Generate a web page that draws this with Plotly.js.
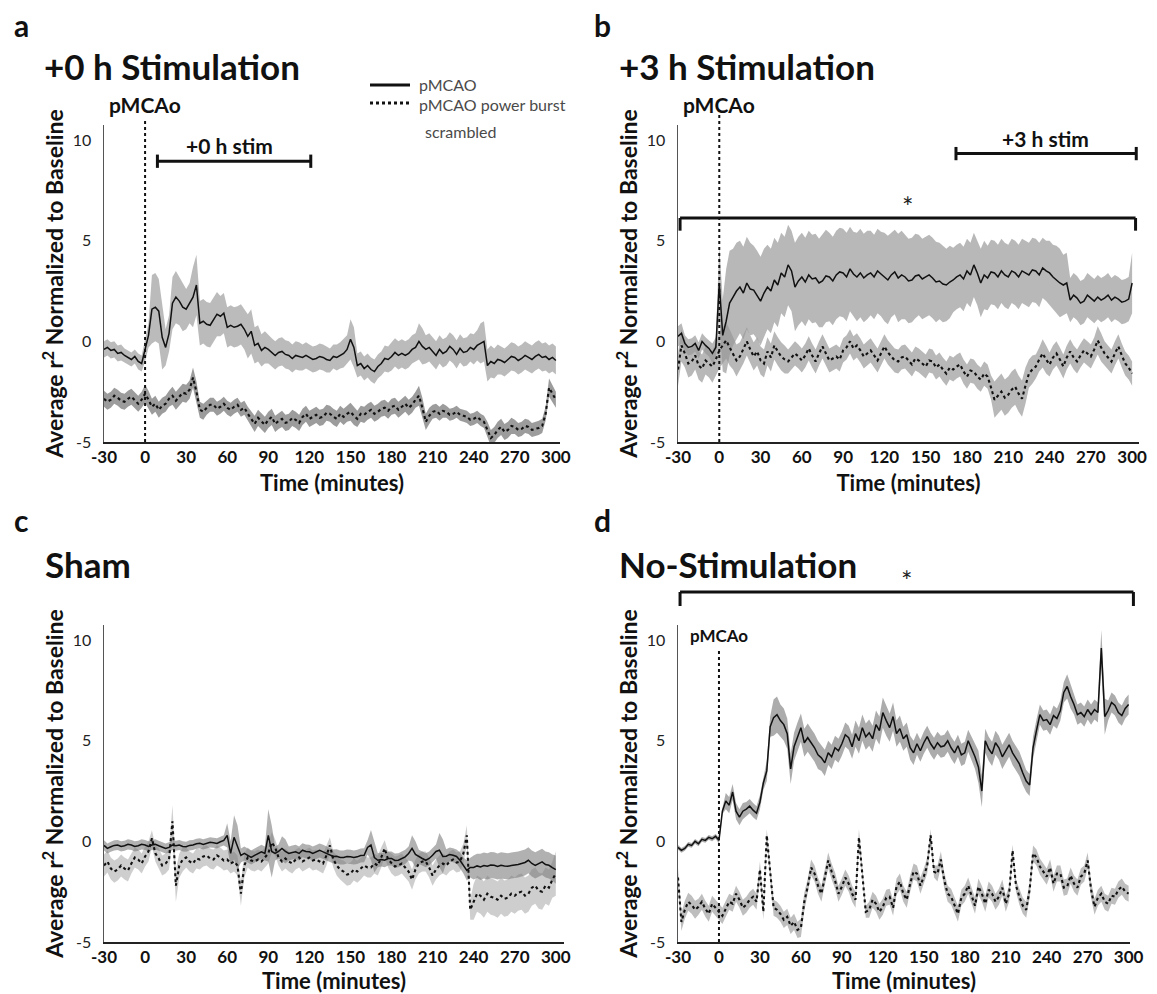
<!DOCTYPE html>
<html><head><meta charset="utf-8">
<script src="https://cdn.plot.ly/plotly-3.0.1.min.js"></script>
<style>html,body{margin:0;padding:0;background:#fff;}</style>
</head><body><div id="chart" style="width:1157px;height:994px;"></div>
<script>
const W = 1157, H = 994;

// ---------- data ----------
// mean traces are read every 2.5 min; the shaded spread (sd) every 5 min
const time = [-30,-27.5,-25,-22.5,-20,-17.5,-15,-12.5,-10,-7.5,-5,-2.5,0,2.5,5,7.5,10,12.5,15,17.5,
  20,22.5,25,27.5,30,32.5,35,37.5,40,42.5,45,47.5,50,52.5,55,57.5,60,62.5,65,67.5,
  70,72.5,75,77.5,80,82.5,85,87.5,90,92.5,95,97.5,100,102.5,105,107.5,110,112.5,115,117.5,
  120,122.5,125,127.5,130,132.5,135,137.5,140,142.5,145,147.5,150,152.5,155,157.5,160,162.5,165,167.5,
  170,172.5,175,177.5,180,182.5,185,187.5,190,192.5,195,197.5,200,202.5,205,207.5,210,212.5,215,217.5,
  220,222.5,225,227.5,230,232.5,235,237.5,240,242.5,245,247.5,250,252.5,255,257.5,260,262.5,265,267.5,
  270,272.5,275,277.5,280,282.5,285,287.5,290,292.5,295,297.5,300];
const xTickVals = [-30,0,30,60,90,120,150,180,210,240,270,300];
const xTickText = ['-30','0','30','60','90','120','150','180','210','240','270','300'];
const yTickVals = [-5,0,5,10];
const yTickText = ['-5','0','5','10'];
const seriesNames = ['pMCAO', 'pMCAO power burst scrambled'];
const panelLetters = ['a','b','c','d'];
const panelTitles = ['+0 h Stimulation','+3 h Stimulation','Sham','No-Stimulation'];

// panel a: +0 h Stimulation
const aSolidMean = [-0.4,-0.3,-0.45,-0.4,-0.6,-0.55,-0.7,-0.8,-0.9,-0.75,-1.0,-1.1,-0.4,0.3,1.6,1.7,1.5,0.2,-0.3,0.4,
  1.9,2.2,2.0,1.7,1.6,1.9,2.2,2.8,0.9,1.0,0.85,0.8,1.1,1.35,1.25,1.4,0.7,0.8,0.7,0.75,
  0.85,0.6,0.25,0.5,-0.2,-0.1,-0.45,-0.3,-0.4,-0.55,-0.7,-0.55,-0.5,-0.65,-0.7,-0.85,-0.7,-0.75,-0.8,-0.7,
  -0.8,-0.9,-0.85,-0.75,-0.8,-0.9,-0.95,-0.75,-0.8,-0.7,-0.6,-0.4,0.1,-0.3,-1.2,-1.1,-1.35,-1.2,-1.4,-1.5,
  -1.25,-1.1,-0.85,-0.9,-0.75,-0.55,-0.7,-0.6,-0.7,-0.6,-0.4,-0.3,0.0,-0.25,-0.4,-0.3,-0.5,-0.7,-0.4,-0.6,
  -0.5,-0.25,-0.4,-0.65,-0.35,-0.55,-0.5,-0.3,-0.4,-0.2,-0.1,0.0,-1.2,-1.0,-1.1,-0.9,-0.95,-1.05,-0.9,-0.75,
  -0.8,-0.95,-0.85,-0.7,-0.8,-0.9,-0.75,-0.65,-0.8,-0.75,-0.9,-0.8,-0.95];
const aSolidSd = [0.4,0.4,0.4,0.35,0.35,0.4,0.6,1.7,1.6,0.9,
  1.3,1.2,1.0,1.5,1.1,1.1,1.1,1.0,1.0,1.0,
  1.0,1.1,0.9,0.8,0.7,0.7,0.7,0.7,0.7,0.65,
  0.65,0.65,0.65,0.6,0.65,0.7,1.0,0.6,0.6,0.6,
  0.6,0.65,0.7,0.7,0.7,0.7,0.9,0.7,0.7,0.7,
  0.7,0.7,0.7,0.7,0.75,1.0,0.8,0.75,0.7,0.7,
  0.7,0.7,0.7,0.7,0.7,0.7,0.7];
const aDotMean = [-2.85,-3.0,-2.9,-2.7,-2.8,-2.95,-3.0,-2.85,-2.75,-2.95,-3.1,-2.9,-2.6,-2.9,-3.25,-3.1,-3.4,-3.2,-3.1,-2.85,
  -2.7,-2.95,-2.75,-2.55,-2.6,-2.4,-1.8,-2.5,-3.4,-3.5,-3.3,-3.15,-3.15,-3.35,-3.25,-3.1,-3.3,-3.4,-3.25,-3.15,
  -3.4,-3.3,-3.6,-3.85,-4.1,-3.8,-4.0,-4.15,-3.9,-3.75,-4.1,-3.95,-3.85,-4.05,-4.0,-3.8,-3.9,-4.05,-3.75,-3.6,
  -3.85,-3.75,-3.65,-3.8,-3.75,-3.55,-3.6,-3.75,-3.85,-3.6,-3.75,-3.6,-3.5,-3.7,-3.85,-3.6,-3.65,-3.5,-3.4,-3.6,
  -3.5,-3.35,-3.3,-3.45,-3.25,-3.2,-3.4,-3.25,-3.1,-3.3,-3.15,-2.9,-2.7,-3.3,-4.0,-3.7,-3.5,-3.45,-3.6,-3.45,
  -3.5,-3.65,-3.6,-3.5,-3.65,-3.7,-3.75,-3.9,-3.85,-3.75,-3.9,-4.0,-4.4,-4.8,-4.65,-4.4,-4.25,-4.5,-4.4,-4.2,
  -4.25,-4.4,-4.35,-4.2,-4.25,-4.4,-4.35,-4.3,-4.2,-3.6,-2.3,-2.6,-2.9];
const aDotSd = [0.4,0.4,0.4,0.4,0.4,0.4,0.45,0.4,0.4,0.4,
  0.45,0.45,0.45,0.5,0.4,0.35,0.35,0.35,0.35,0.35,
  0.35,0.35,0.4,0.4,0.4,0.4,0.4,0.4,0.4,0.4,
  0.4,0.4,0.4,0.4,0.4,0.4,0.45,0.4,0.4,0.4,
  0.4,0.4,0.4,0.4,0.4,0.4,0.5,0.4,0.35,0.35,
  0.3,0.3,0.3,0.3,0.3,0.3,0.4,0.4,0.4,0.4,
  0.35,0.35,0.35,0.35,0.35,0.45,0.4];

// panel b: +3 h Stimulation
const bSolidMean = [0.25,0.4,-0.1,-0.3,-0.25,-0.1,-0.45,0.0,-0.2,-0.35,-0.6,-0.3,2.9,0.3,1.0,1.9,2.2,2.5,2.7,2.4,
  2.9,2.6,2.55,2.3,2.0,2.4,2.7,2.5,3.05,2.8,3.4,3.2,3.8,3.5,2.7,3.0,3.2,2.95,3.3,3.1,
  3.15,2.9,3.0,3.25,3.2,3.0,3.3,3.45,3.4,3.2,3.6,3.35,3.2,3.4,3.15,3.3,3.4,3.2,3.5,3.35,
  3.2,3.05,3.3,3.45,3.15,3.3,3.2,3.0,3.05,3.25,3.3,3.1,3.2,3.3,3.15,2.95,3.0,2.85,2.8,2.95,
  3.05,3.2,3.3,3.1,3.5,3.3,3.8,3.4,2.9,3.3,3.15,3.45,3.4,3.2,3.5,3.3,3.2,3.5,3.4,3.2,
  3.5,3.4,3.3,3.55,3.5,3.3,3.65,3.5,3.4,3.2,3.05,2.9,2.8,2.9,2.05,2.3,2.15,1.9,2.0,2.3,
  2.15,2.0,2.2,2.05,2.15,2.3,2.05,2.2,2.1,1.95,2.0,2.1,2.9];
const bSolidSd = [0.5,0.4,0.4,0.4,0.4,0.5,1.8,2.6,2.4,2.3,
  2.3,2.2,2.2,2.1,2.1,2.0,2.0,2.2,2.2,2.2,
  2.2,2.3,2.2,2.2,2.2,2.1,2.2,2.2,2.1,2.1,
  2.2,2.1,2.2,2.1,2.1,2.0,2.0,2.0,1.9,1.8,
  1.6,1.6,1.6,1.6,1.7,1.6,1.6,1.6,1.6,1.6,
  1.6,1.6,1.6,1.5,1.6,1.7,1.5,1.1,1.1,1.1,
  1.1,1.1,1.1,1.1,1.1,1.1,1.5];
const bDotMean = [-1.4,-0.2,-0.6,-1.1,-1.0,-0.7,-1.2,-1.35,-0.95,-1.1,-1.25,-0.9,-0.45,-0.2,0.05,-0.3,-0.6,-0.95,-0.75,-0.4,
  0.0,-0.4,-0.75,-0.5,-0.95,-1.1,-0.5,-0.8,-0.2,-0.5,-0.75,-0.9,-1.0,-0.8,-0.6,-0.75,-0.95,-0.7,-0.35,-0.7,
  -1.0,-0.6,-0.25,-0.6,-0.95,-0.85,-0.75,-0.9,-0.45,-0.3,0.0,-0.35,-0.2,-0.45,-0.75,-0.6,-0.45,-0.7,-0.95,-0.6,
  -0.25,-0.55,-0.75,-0.95,-1.0,-0.8,-0.75,-0.95,-1.15,-0.85,-0.95,-1.1,-1.25,-0.95,-1.0,-1.3,-1.15,-1.4,-1.6,-1.3,
  -1.4,-1.25,-1.15,-1.5,-1.75,-1.45,-1.5,-1.75,-1.9,-1.6,-1.75,-2.3,-2.9,-2.7,-2.5,-2.8,-2.65,-2.4,-2.25,-2.6,
  -2.85,-2.2,-1.6,-1.4,-1.25,-0.9,-0.6,-0.9,-1.15,-0.8,-0.6,-0.9,-1.25,-0.8,-0.5,-0.8,-1.0,-0.7,-0.45,-0.6,
  -0.75,-0.4,0.05,-0.3,-0.6,-0.8,-1.0,-0.6,-0.25,-0.7,-1.1,-1.3,-1.6];
const bDotSd = [0.8,0.7,0.7,0.7,0.7,0.8,0.9,0.9,0.8,0.7,
  0.7,0.7,0.7,0.7,0.7,0.7,0.6,0.6,0.6,0.6,
  0.6,0.6,0.6,0.6,0.6,0.6,0.6,0.6,0.6,0.6,
  0.6,0.6,0.6,0.6,0.6,0.6,0.6,0.6,0.6,0.6,
  0.6,0.6,0.6,0.6,0.6,0.6,0.9,0.9,0.9,0.9,
  0.9,0.7,0.6,0.7,0.6,0.6,0.6,0.6,0.6,0.6,
  0.6,0.7,0.6,0.6,0.6,0.6,0.6];

// panel c: Sham
const cSolidMean = [-0.2,-0.35,-0.27,-0.2,-0.18,-0.25,-0.22,-0.15,-0.18,-0.25,-0.22,-0.15,-0.18,-0.25,-0.18,-0.15,-0.22,-0.3,-0.35,-0.3,
  -0.18,-0.22,-0.18,-0.25,-0.27,-0.2,-0.18,-0.12,-0.1,-0.15,-0.1,-0.05,-0.07,-0.1,-0.02,0.05,0.3,-0.6,0.2,-0.3,
  -0.7,-0.6,-0.7,-0.8,-0.7,-0.6,-0.52,-0.6,0.3,-0.5,-0.6,-0.5,-0.35,-0.5,-0.6,-0.55,-0.52,-0.6,-0.44,-0.5,
  -0.52,-0.6,-0.52,-0.45,-0.52,-0.6,-0.69,-0.75,-0.74,-0.8,-0.8,-0.75,-0.77,-0.8,-0.77,-0.7,-0.69,-0.3,-0.18,-0.8,
  -0.94,-0.9,-0.94,-0.85,-0.85,-0.95,-0.94,-0.85,-0.77,-0.6,-0.35,-0.65,-0.77,-0.85,-0.94,-0.85,-0.69,-0.5,-0.44,-0.75,
  -0.74,-0.65,-0.69,-0.75,-0.94,-1.2,-1.44,-1.3,-1.3,-1.22,-1.27,-1.2,-1.24,-1.18,-1.19,-1.25,-1.19,-1.22,-1.24,-1.2,
  -1.19,-1.15,-1.1,-1.05,-0.94,-1.1,-1.19,-1.1,-1.02,-1.15,-1.19,-1.3,-1.4];
const cSolidSd = [0.25,0.25,0.25,0.25,0.25,0.25,0.25,0.25,0.25,0.25,
  0.25,0.25,0.25,0.25,0.25,0.25,0.25,0.25,0.6,1.1,
  0.35,0.35,0.35,0.35,1.3,0.35,0.6,0.35,0.35,0.35,
  0.35,0.35,0.35,0.35,0.35,0.35,0.35,0.35,0.35,0.75,
  0.35,0.35,0.35,0.35,0.35,0.65,0.35,0.35,0.35,0.85,
  0.35,0.35,0.4,0.5,0.6,0.65,0.65,0.65,0.65,0.65,
  0.65,0.65,0.65,0.65,0.65,0.65,0.7];
const cDotMean = [-1.2,-1.0,-1.35,-1.5,-1.4,-1.2,-1.35,-1.45,-1.1,-0.8,-0.9,-1.1,-0.75,-0.5,0.15,-0.6,-0.85,-1.2,-1.1,-0.9,
  1.0,-2.2,-1.2,-0.9,-0.8,-1.0,-1.1,-0.85,-0.9,-0.75,-0.7,-0.85,-0.9,-0.7,-0.8,-0.95,-0.9,-1.1,-1.0,-1.2,
  -2.6,-1.2,-0.8,-0.95,-1.0,-0.9,-1.0,-0.8,-0.6,-0.05,-0.3,-0.8,-1.0,-0.85,-1.0,-1.1,-0.9,-0.8,-1.0,-0.9,
  -0.8,-0.95,-0.9,-1.0,-1.1,-0.7,-0.2,-0.9,-1.2,-1.4,-1.5,-1.65,-1.6,-1.4,-1.5,-1.35,-1.2,-1.3,-1.3,-1.1,
  -1.2,-0.8,-0.35,-0.9,-1.1,-1.25,-1.2,-1.1,-1.3,-1.5,-1.9,-1.4,-1.1,-1.0,-1.0,-1.3,-1.7,-1.4,-1.2,-1.1,
  -1.2,-1.0,-0.9,-1.05,-1.0,-0.6,0.3,-3.4,-3.0,-2.6,-2.7,-2.9,-2.6,-2.75,-2.8,-2.9,-2.7,-2.85,-2.8,-2.6,
  -2.7,-2.55,-2.5,-2.7,-2.6,-2.3,-2.2,-2.45,-2.5,-2.2,-2.3,-1.9,-1.6];
const cDotSd = [0.55,0.55,0.55,0.55,0.5,0.5,0.5,0.4,0.5,0.5,
  0.8,0.6,0.5,0.5,0.5,0.5,0.5,0.5,0.5,0.5,
  0.6,0.5,0.5,0.5,0.5,0.4,0.5,0.5,0.5,0.5,
  0.5,0.5,0.5,0.4,0.5,0.55,0.55,0.55,0.5,0.5,
  0.5,0.4,0.5,0.5,0.5,0.5,0.5,0.5,0.5,0.5,
  0.5,0.5,0.5,0.5,0.9,0.9,0.9,0.9,0.9,0.9,
  0.9,0.9,0.9,0.9,0.9,0.9,1.1];

// panel d: No-Stimulation
const dSolidMean = [-0.3,-0.45,-0.35,-0.15,-0.2,0.0,-0.12,0.1,0.05,0.2,0.13,0.25,0.05,1.5,2.0,1.8,2.45,1.5,1.2,1.5,
  1.6,1.75,1.55,1.4,1.95,2.9,3.5,5.7,6.15,6.3,6.0,5.8,5.35,3.6,4.7,5.2,5.65,4.9,5.15,4.9,
  4.65,4.3,4.15,3.9,4.4,4.2,4.65,4.5,4.85,5.3,5.15,4.7,5.35,5.0,5.65,5.2,5.4,5.1,5.8,5.5,
  6.4,6.0,5.65,6.2,5.35,5.6,5.1,5.3,4.65,4.4,4.85,4.5,4.9,5.2,4.85,4.6,4.9,4.7,4.75,5.0,
  4.65,4.4,4.75,4.3,4.4,5.0,4.6,4.2,3.7,2.5,5.0,4.6,4.35,4.9,4.65,4.2,4.5,4.8,4.4,4.1,
  3.85,3.4,3.0,2.8,4.65,5.5,6.3,6.0,6.05,5.8,6.25,6.1,6.5,7.4,7.7,7.2,6.8,6.3,6.4,6.2,
  6.55,6.3,6.55,6.4,9.6,6.2,6.5,6.9,6.75,6.4,6.25,6.6,6.8];
const dSolidSd = [0.12,0.12,0.12,0.12,0.12,0.12,0.15,0.4,0.4,0.4,
  0.35,0.35,0.35,0.5,0.9,0.8,0.75,0.7,0.7,0.7,
  0.7,0.65,0.6,0.6,0.6,0.6,0.65,0.65,0.65,0.7,
  0.75,0.7,0.65,0.6,0.6,0.55,0.55,0.55,0.55,0.55,
  0.55,0.55,0.55,0.6,0.8,0.6,0.6,0.6,0.6,0.6,
  0.6,0.55,0.55,0.5,0.5,0.5,0.5,0.6,0.5,0.5,
  0.5,0.5,0.9,0.5,0.5,0.5,0.5];
const dDotMean = [-1.8,-4.0,-3.4,-3.0,-3.15,-3.4,-3.25,-3.0,-3.35,-3.6,-3.1,-3.3,-3.55,-3.7,-3.35,-3.0,-3.1,-2.6,-2.9,-3.3,
  -3.15,-2.9,-2.75,-3.0,-1.4,-3.5,0.3,-1.5,-3.3,-3.4,-3.6,-3.9,-3.75,-4.2,-4.0,-4.4,-4.3,-3.0,-2.25,-1.3,
  -1.6,-2.2,-2.6,-1.8,-0.95,-1.5,-1.95,-2.6,-2.25,-1.8,-2.1,-2.6,-2.9,0.2,-1.5,-3.5,-3.4,-2.9,-3.1,-3.5,
  -3.25,-2.8,-2.75,-3.3,-2.25,-2.0,-2.6,-2.9,-2.1,-1.5,-1.6,-2.2,-1.75,-1.2,0.3,-1.5,-1.6,-0.9,-1.95,-2.6,
  -2.75,-3.2,-3.6,-2.8,-2.6,-2.2,-2.75,-3.2,-2.25,-2.6,-3.1,-2.4,-2.6,-3.0,-2.75,-2.3,-3.1,-2.6,-0.45,-2.2,
  -2.75,-3.2,-3.4,-2.4,-0.6,-0.8,-1.25,-1.5,-1.75,-1.3,-2.1,-1.6,-1.6,-2.3,-2.25,-1.7,-2.1,-2.3,-1.75,-1.6,
  -0.95,-2.4,-3.25,-2.8,-2.6,-3.0,-3.1,-2.7,-2.75,-2.4,-2.25,-2.5,-2.6];
const dDotSd = [0.45,0.45,0.45,0.4,0.4,0.4,0.4,0.4,0.4,0.4,
  0.4,0.4,0.4,0.3,0.4,0.4,0.4,0.4,0.45,0.4,
  0.4,0.4,0.4,0.4,0.4,0.4,0.4,0.3,0.4,0.4,
  0.4,0.4,0.4,0.4,0.4,0.4,0.4,0.3,0.4,0.4,
  0.4,0.4,0.4,0.4,0.4,0.4,0.4,0.4,0.4,0.3,
  0.4,0.4,0.4,0.4,0.4,0.4,0.4,0.4,0.4,0.4,
  0.4,0.4,0.4,0.4,0.4,0.4,0.4];

// ---------- layout helpers ----------
const F = 'Lato, "Open Sans", sans-serif';
const fx = p => p / W;
const fy = p => 1 - p / H;

const panels = [
  {s:'',  solid:aSolidMean, solidSd:aSolidSd, dot:aDotMean, dotSd:aDotSd, xd:[104,560], xr:[-30,303], yd:[442,125],
   solidFill:'rgba(150,150,150,0.65)', dotFill:'rgba(105,105,105,0.66)'},
  {s:'2', solid:bSolidMean, solidSd:bSolidSd, dot:bDotMean, dotSd:bDotSd, xd:[678,1139], xr:[-30,305], yd:[442,125],
   solidFill:'rgba(150,150,150,0.68)', dotFill:'rgba(150,150,150,0.68)'},
  {s:'3', solid:cSolidMean, solidSd:cSolidSd, dot:cDotMean, dotSd:cDotSd, xd:[104,564], xr:[-30,306], yd:[942,625],
   solidFill:'rgba(125,125,125,0.6)', dotFill:'rgba(165,165,165,0.55)'},
  {s:'4', solid:dSolidMean, solidSd:dSolidSd, dot:dDotMean, dotSd:dDotSd, xd:[678,1130], xr:[-30,301], yd:[942,625],
   solidFill:'rgba(140,140,140,0.72)', dotFill:'rgba(155,155,155,0.65)'}
];

const traces = [];
// spread: each 5-min sd applies to the two 2.5-min samples it covers
function band(mean, sd, xa, ya, color) {
  const n = Math.min(time.length, mean.length);
  const up = [], lo = [];
  for (let i = 0; i < n; i++) {
    const s = sd[Math.min(sd.length - 1, Math.floor(i / 2))];
    up.push(mean[i] + s); lo.push(mean[i] - s);
  }
  traces.push({x: time.slice(0, n), y: up, xaxis: xa, yaxis: ya, mode: 'lines',
    line: {width: 0, color: color}, hoverinfo: 'skip', showlegend: false});
  traces.push({x: time.slice(0, n), y: lo, xaxis: xa, yaxis: ya, mode: 'lines',
    line: {width: 0, color: color}, fill: 'tonexty', fillcolor: color, hoverinfo: 'skip', showlegend: false});
}

const layout = {
  width: W, height: H, autosize: false,
  margin: {l: 0, r: 0, t: 0, b: 0},
  paper_bgcolor: '#fff', plot_bgcolor: 'rgba(0,0,0,0)',
  showlegend: false,
  font: {family: F, color: '#111'},
  shapes: [], annotations: []
};

panels.forEach((p, i) => {
  const xa = 'x' + p.s, ya = 'y' + p.s;
  band(p.dot, p.dotSd, xa, ya, p.dotFill);
  band(p.solid, p.solidSd, xa, ya, p.solidFill);
  traces.push({x: time, y: p.dot, xaxis: xa, yaxis: ya, mode: 'lines', name: seriesNames[1],
    line: {color: '#111', width: 2.1, dash: 'dot'}, showlegend: false});
  traces.push({x: time, y: p.solid, xaxis: xa, yaxis: ya, mode: 'lines', name: seriesNames[0],
    line: {color: '#111', width: 1.5}, showlegend: false});

  layout['xaxis' + p.s] = {
    domain: [fx(p.xd[0]), fx(p.xd[1])], range: p.xr, anchor: ya,
    showline: true, linecolor: '#222', linewidth: 2, showgrid: false, zeroline: false,
    tickmode: 'array', tickvals: xTickVals, ticktext: xTickText,
    ticks: '', ticklabelstandoff: -1,
    tickfont: {family: F, size: 17, color: '#111', weight: 700},
    title: {text: 'Time (minutes)', font: {family: F, size: 22, color: '#111', weight: 700}, standoff: 9},
    fixedrange: true
  };
  layout['yaxis' + p.s] = {
    domain: [fy(p.yd[0]), fy(p.yd[1])], range: [-5, 10.75], anchor: xa,
    showline: true, linecolor: '#555', linewidth: 1.5, showgrid: false, zeroline: false,
    tickmode: 'array', tickvals: yTickVals, ticktext: yTickText,
    ticks: '', ticklabelstandoff: 8,
    tickfont: {family: F, size: 16, color: '#222'},
    title: {text: 'Average r<sup>2</sup> Normalized to Baseline', font: {family: F, size: 23, color: '#111', weight: 700}, standoff: 2},
    fixedrange: true
  };
});

// panel letters and titles
const letterPos = [[12, 25], [592, 25], [12, 520], [592, 520]];
const titlePos = [[42, 66], [617, 66], [43, 564], [617, 564]];
panelLetters.forEach((l, i) => {
  layout.annotations.push({text: l, xref: 'paper', yref: 'paper', x: fx(letterPos[i][0]), y: fy(letterPos[i][1]),
    xanchor: 'left', yanchor: 'middle', showarrow: false, font: {family: F, size: 30, color: '#111', weight: 700}});
  layout.annotations.push({text: panelTitles[i], xref: 'paper', yref: 'paper', x: fx(titlePos[i][0]), y: fy(titlePos[i][1]),
    xanchor: 'left', yanchor: 'middle', showarrow: false, font: {family: F, size: 35, color: '#111', weight: 700}});
});

// pMCAo markers (x = 0 min)
const dotLine = {color: '#111', width: 2, dash: 'dot'};
layout.shapes.push({type: 'line', xref: 'x', yref: 'paper', x0: 0, x1: 0, y0: fy(442), y1: fy(118), line: dotLine});
layout.shapes.push({type: 'line', xref: 'x2', yref: 'paper', x0: 0, x1: 0, y0: fy(442), y1: fy(115), line: dotLine});
layout.shapes.push({type: 'line', xref: 'x4', yref: 'y4', x0: 0, x1: 0, y0: -5, y1: 9.6, line: dotLine});
layout.annotations.push({text: 'pMCAo', xref: 'x', yref: 'paper', x: 0, y: fy(105), xanchor: 'center', yanchor: 'middle',
  showarrow: false, font: {family: F, size: 21, color: '#111', weight: 700}});
layout.annotations.push({text: 'pMCAo', xref: 'x2', yref: 'paper', x: 0, y: fy(104), xanchor: 'center', yanchor: 'middle',
  showarrow: false, font: {family: F, size: 21, color: '#111', weight: 700}});
layout.annotations.push({text: 'pMCAo', xref: 'x4', yref: 'y4', x: 0, y: 10.25, xanchor: 'center', yanchor: 'middle',
  showarrow: false, font: {family: F, size: 17, color: '#111', weight: 700}});

// stimulation bars
const barLine = {color: '#111', width: 3};
function hbar(xa, ya, x0, x1, y, cap) {
  layout.shapes.push({type: 'line', xref: xa, yref: ya, x0: x0, x1: x1, y0: y, y1: y, line: barLine});
  layout.shapes.push({type: 'line', xref: xa, yref: ya, x0: x0, x1: x0, y0: y - cap, y1: y + cap, line: barLine});
  layout.shapes.push({type: 'line', xref: xa, yref: ya, x0: x1, x1: x1, y0: y - cap, y1: y + cap, line: barLine});
}
hbar('x', 'y', 9, 121, 8.95, 0.33);
layout.annotations.push({text: '+0 h stim', xref: 'x', yref: 'y', x: 62, y: 9.75, xanchor: 'center', yanchor: 'middle',
  showarrow: false, font: {family: F, size: 21, color: '#111', weight: 700}});
hbar('x2', 'y2', 172, 303, 9.33, 0.33);
layout.annotations.push({text: '+3 h stim', xref: 'x2', yref: 'y2', x: 237, y: 10.1, xanchor: 'center', yanchor: 'middle',
  showarrow: false, font: {family: F, size: 21, color: '#111', weight: 700}});

// significance brackets
layout.shapes.push({type: 'line', xref: 'x2', yref: 'y2', x0: -28.5, x1: 302.5, y0: 6.13, y1: 6.13, line: barLine});
layout.shapes.push({type: 'line', xref: 'x2', yref: 'y2', x0: -28.5, x1: -28.5, y0: 6.13, y1: 5.5, line: barLine});
layout.shapes.push({type: 'line', xref: 'x2', yref: 'y2', x0: 302.5, x1: 302.5, y0: 6.13, y1: 5.5, line: barLine});
layout.annotations.push({text: '*', xref: 'x2', yref: 'y2', x: 137, y: 6.7, xanchor: 'center', yanchor: 'middle',
  showarrow: false, font: {family: F, size: 27, color: '#222'}});
const dDom = t => (t - panels[3].xr[0]) / (panels[3].xr[1] - panels[3].xr[0]);
layout.shapes.push({type: 'line', xref: 'x4 domain', yref: 'paper', x0: dDom(-28.5), x1: dDom(303.5), y0: fy(592), y1: fy(592), line: barLine});
layout.shapes.push({type: 'line', xref: 'x4 domain', yref: 'paper', x0: dDom(-28.5), x1: dDom(-28.5), y0: fy(592), y1: fy(606), line: barLine});
layout.shapes.push({type: 'line', xref: 'x4 domain', yref: 'paper', x0: dDom(303.5), x1: dDom(303.5), y0: fy(592), y1: fy(606), line: barLine});
layout.annotations.push({text: '*', xref: 'x4', yref: 'paper', x: 137, y: fy(580), xanchor: 'center', yanchor: 'middle',
  showarrow: false, font: {family: F, size: 27, color: '#222'}});

// legend (panel a)
layout.shapes.push({type: 'line', xref: 'paper', yref: 'paper', x0: fx(370), x1: fx(410), y0: fy(85), y1: fy(85), line: {color: '#111', width: 3}});
layout.shapes.push({type: 'line', xref: 'paper', yref: 'paper', x0: fx(370), x1: fx(410), y0: fy(103), y1: fy(103), line: {color: '#111', width: 3, dash: 'dot'}});
const legFont = {family: F, size: 16, color: '#4a4a4a'};
layout.annotations.push({text: seriesNames[0], xref: 'paper', yref: 'paper', x: fx(417), y: fy(84), xanchor: 'left', yanchor: 'middle', showarrow: false, font: legFont});
layout.annotations.push({text: 'pMCAO power burst', xref: 'paper', yref: 'paper', x: fx(417), y: fy(104), xanchor: 'left', yanchor: 'middle', showarrow: false, font: legFont});
layout.annotations.push({text: 'scrambled', xref: 'paper', yref: 'paper', x: fx(423), y: fy(131), xanchor: 'left', yanchor: 'middle', showarrow: false, font: legFont});

Plotly.newPlot('chart', traces, layout, {staticPlot: true, displayModeBar: false});
</script>
</body></html>
